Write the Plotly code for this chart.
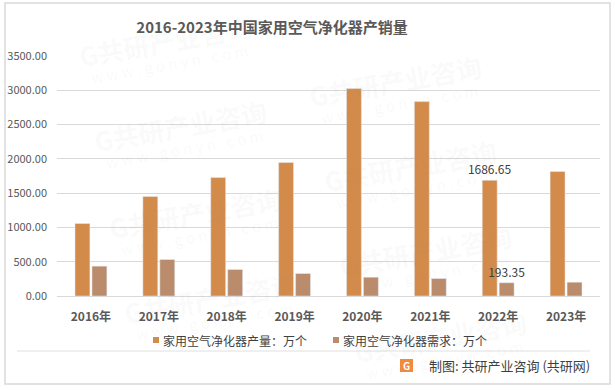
import math
import plotly.graph_objects as go

years = ["2016年", "2017年", "2018年", "2019年", "2020年", "2021年", "2022年", "2023年"]
production = [1057, 1450, 1727, 1946, 3025, 2835, 1686.65, 1815]
demand = [435, 532, 386, 328, 274, 255, 193.35, 201]
prod_labels = ["", "", "", "", "", "", "1686.65", ""]
dem_labels = ["", "", "", "", "", "", "193.35", ""]
y_ticks = [0, 500, 1000, 1500, 2000, 2500, 3000, 3500]
series_names = ["家用空气净化器产量：万个", "家用空气净化器需求：万个"]
colors = ["#D38B4B", "#BA8C6C"]

font_family = "Microsoft YaHei, Noto Sans CJK SC, sans-serif"
gray = "#595959"

L, R, T, B = 57, 15, 56, 94
PW, PH = 615 - L - R, 390 - T - B


def px(xp):
    return (xp - L) / PW


def py(yp):
    return (390 - B - yp) / PH


fig = go.Figure()
for vals, labels, name, col in [(production, prod_labels, series_names[0], colors[0]),
                                (demand, dem_labels, series_names[1], colors[1])]:
    fig.add_trace(go.Bar(
        x=years, y=vals, name=name, marker_color=col,
        text=labels, textposition="outside", constraintext="none",
        textfont=dict(size=12, color="#404040"), cliponaxis=False,
        showlegend=False,
    ))

fig.update_layout(
    width=615, height=390,
    margin=dict(l=L, r=R, t=T, b=B, autoexpand=False),
    paper_bgcolor="white", plot_bgcolor="white",
    font=dict(family=font_family, color=gray, size=11),
    title=dict(text="<b>2016-2023年中国家用空气净化器产销量</b>",
               x=272 / 615, xanchor="center", y=1 - 28 / 390, yanchor="middle",
               font=dict(size=15, color=gray)),
    barmode="group", bargap=0.5, bargroupgap=0.12,
    xaxis=dict(showline=True, linecolor="#D9D9D9", linewidth=1,
               tickvals=years, ticktext=[f"<b>{y}</b>" for y in years],
               tickfont=dict(size=12, color=gray), ticklabelstandoff=10,
               ticks="", showgrid=False, automargin=False),
    yaxis=dict(range=[0, 3500], tickvals=y_ticks,
               ticktext=[f"{v:.2f}" for v in y_ticks],
               showgrid=True, gridcolor="#D9D9D9", gridwidth=1,
               tickfont=dict(size=11, color=gray), zeroline=False,
               ticks="", ticklabelstandoff=9, automargin=False),
)

# faint watermarks (only those fully inside the picture)
wm_centers = [(165, 40), (180, 125), (195, 212), (210, 297),
              (395, 80), (410, 165), (425, 250), (440, 336)]
ang = 10
for cx, cy in wm_centers:
    fig.add_annotation(xref="paper", yref="paper", x=px(cx), y=py(cy),
                       text="<b>G共研产业咨询</b>", showarrow=False, textangle=-ang,
                       font=dict(size=26, color="rgba(120,120,120,0.055)"),
                       xanchor="center", yanchor="middle")
    dx, dy = 24 * math.sin(math.radians(ang)), 24 * math.cos(math.radians(ang))
    fig.add_annotation(xref="paper", yref="paper", x=px(cx + dx), y=py(cy + dy),
                       text="w w w . g o n y n . c o m", showarrow=False, textangle=-ang,
                       font=dict(size=15, color="rgba(120,120,120,0.055)"),
                       xanchor="center", yanchor="middle")

# outer border
fig.add_shape(type="rect", xref="paper", yref="paper",
              x0=px(5), x1=px(610), y0=py(384), y1=py(3),
              line=dict(color="#D9D9D9", width=1.5), fillcolor="rgba(0,0,0,0)", layer="below")
# custom legend
leg_sq_x = [153, 333]
for xs, name, col in zip(leg_sq_x, series_names, colors):
    fig.add_shape(type="rect", xref="paper", yref="paper",
                  x0=px(xs), x1=px(xs + 6), y0=py(343), y1=py(337),
                  line=dict(width=0), fillcolor=col)
    fig.add_annotation(xref="paper", yref="paper", x=px(xs + 8), y=py(340),
                       text=name, showarrow=False, xanchor="left", yanchor="middle",
                       font=dict(size=12, color="#404040"))
# separator line
fig.add_shape(type="line", xref="paper", yref="paper",
              x0=px(17), x1=px(590), y0=py(351), y1=py(351),
              line=dict(color="#E0E0E0", width=1))
# logo
fig.add_shape(type="rect", xref="paper", yref="paper",
              x0=px(400), x1=px(413), y0=py(372), y1=py(359),
              line=dict(width=0), fillcolor="#F08A3C")
fig.add_annotation(xref="paper", yref="paper", x=px(406.5), y=py(365.5),
                   text="<b>G</b>", showarrow=False, font=dict(size=10, color="white"),
                   xanchor="center", yanchor="middle")
fig.add_annotation(xref="paper", yref="paper", x=px(592), y=py(365.5),
                   text="制图: 共研产业咨询 (共研网)", showarrow=False,
                   font=dict(size=13, color="#404040"), xanchor="right", yanchor="middle")

fig.write_html("out.html", config={"displayModeBar": False},
               post_script="document.body.style.margin='0';")
